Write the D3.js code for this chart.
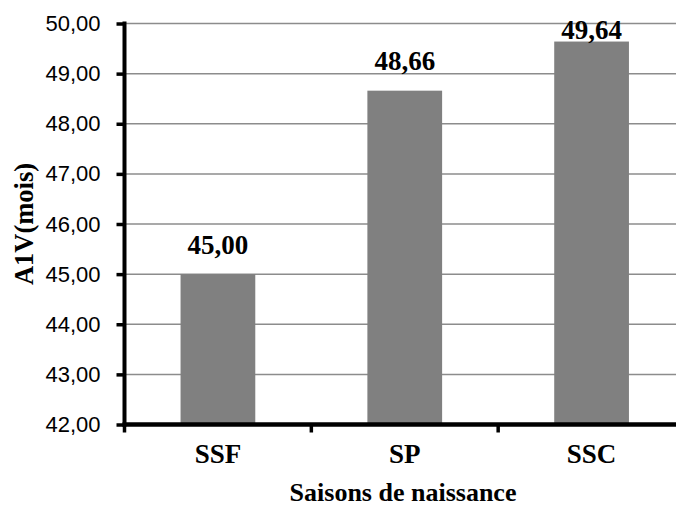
<!DOCTYPE html>
<html>
<head>
<meta charset="utf-8">
<script src="https://cdn.jsdelivr.net/npm/d3@7"></script>
<style>
  html, body { margin: 0; padding: 0; background: #fff; }
  svg { display: block; }
</style>
</head>
<body>
<svg id="chart" width="676" height="507"></svg>
<script>
// Age at first calving (months) by birth season
const categories = ["SSF", "SP", "SSC"];
const values = [45.00, 48.66, 49.64];
const yTicks = [42, 43, 44, 45, 46, 47, 48, 49, 50];
const yTitle = "A1V(mois)";
const xTitle = "Saisons de naissance";

const svg = d3.select("#chart");
const plotLeft = 124.5, plotRight = 685, plotTop = 23.5, plotBottom = 424.5;
const serif = "'Liberation Serif', 'Times New Roman', serif";

const fmt = v => v.toFixed(2).replace(".", ",");

const x = d3.scaleBand()
  .domain(categories)
  .range([plotLeft, plotRight])
  .paddingInner(0.6)
  .paddingOuter(0.3);

const y = d3.scaleLinear()
  .domain([42, 50])
  .range([plotBottom, plotTop]);

// horizontal gridlines
svg.append("g")
  .selectAll("line")
  .data(yTicks.slice(1))
  .join("line")
  .attr("x1", plotLeft)
  .attr("x2", plotRight)
  .attr("y1", d => y(d))
  .attr("y2", d => y(d))
  .attr("stroke", "#8c8c8c")
  .attr("stroke-width", 1.5);

// bars
svg.append("g")
  .selectAll("rect")
  .data(values)
  .join("rect")
  .attr("x", (d, i) => x(categories[i]))
  .attr("width", x.bandwidth())
  .attr("y", d => y(d))
  .attr("height", d => y(42) - y(d))
  .attr("fill", "#808080");

// value labels above bars (kept inside the plot when the bar is tall)
svg.append("g")
  .selectAll("text")
  .data(values)
  .join("text")
  .attr("x", (d, i) => x(categories[i]) + x.bandwidth() / 2)
  .attr("y", d => Math.max(y(d) - 20.5, plotTop + 15))
  .attr("text-anchor", "middle")
  .attr("font-family", serif)
  .attr("font-weight", "bold")
  .attr("font-size", 27)
  .attr("fill", "#000")
  .text(d => fmt(d));

// y axis
const yAxis = d3.axisLeft(y)
  .tickValues(yTicks)
  .tickSize(8)
  .tickPadding(16)
  .tickFormat(d => fmt(d));

const gy = svg.append("g")
  .attr("transform", `translate(${plotLeft},0)`)
  .call(yAxis);
gy.select(".domain").attr("stroke", "#000").attr("stroke-width", 4)
  .attr("d", `M0,${plotTop - 2}V${plotBottom + 2}`);
gy.selectAll(".tick line").attr("stroke", "#000").attr("stroke-width", 3.5);
gy.selectAll(".tick text")
  .attr("font-family", "'Liberation Sans', Arial, sans-serif")
  .attr("font-size", 22)
  .attr("fill", "#000");

// x axis: category boundaries carry the tick marks
const boundaries = d3.range(categories.length + 1).map(i => plotLeft + i * x.step());
const gx = svg.append("g");
gx.append("line")
  .attr("x1", plotLeft - 2)
  .attr("x2", plotRight)
  .attr("y1", plotBottom)
  .attr("y2", plotBottom)
  .attr("stroke", "#000")
  .attr("stroke-width", 4.5);
gx.selectAll("line.tick")
  .data(boundaries)
  .join("line")
  .attr("class", "tick")
  .attr("x1", d => d)
  .attr("x2", d => d)
  .attr("y1", plotBottom)
  .attr("y2", plotBottom + 8)
  .attr("stroke", "#000")
  .attr("stroke-width", 3.5);
gx.selectAll("text")
  .data(categories)
  .join("text")
  .attr("x", d => x(d) + x.bandwidth() / 2)
  .attr("y", 463)
  .attr("text-anchor", "middle")
  .attr("font-family", serif)
  .attr("font-weight", "bold")
  .attr("font-size", 27)
  .attr("fill", "#000")
  .text(d => d);

// axis titles
svg.append("text")
  .attr("x", 403)
  .attr("y", 501)
  .attr("text-anchor", "middle")
  .attr("font-family", serif)
  .attr("font-weight", "bold")
  .attr("font-size", 26)
  .attr("fill", "#000")
  .text(xTitle);

svg.append("text")
  .attr("transform", "translate(33,224) rotate(-90)")
  .attr("text-anchor", "middle")
  .attr("font-family", serif)
  .attr("font-weight", "bold")
  .attr("font-size", 26.5)
  .attr("fill", "#000")
  .text(yTitle);
</script>
</body>
</html>
